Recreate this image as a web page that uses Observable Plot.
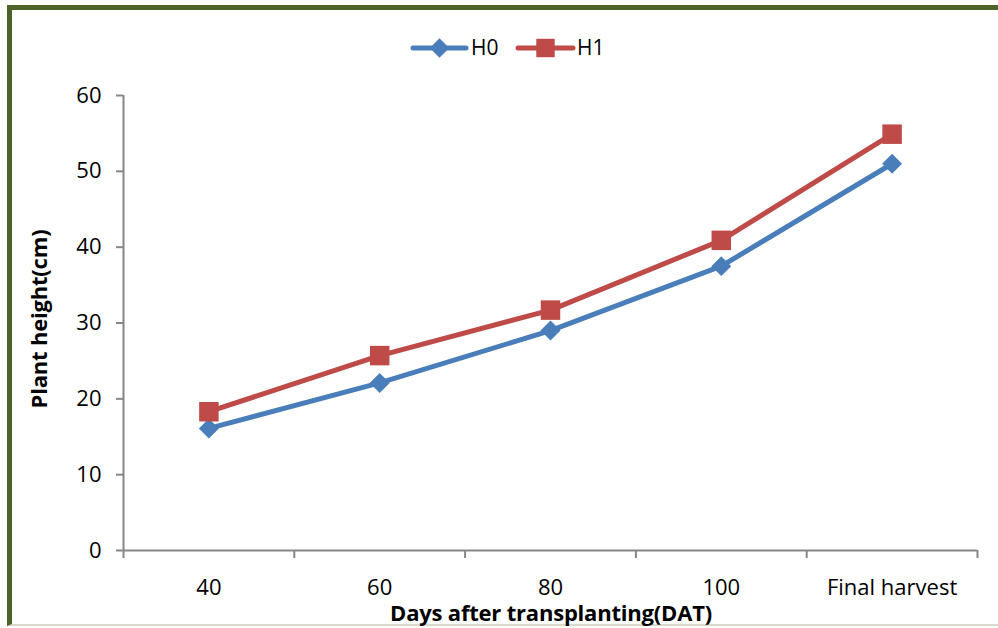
<!DOCTYPE html>
<html>
<head>
<meta charset="utf-8">
<script src="https://cdn.jsdelivr.net/npm/d3@7"></script>
<script src="https://cdn.jsdelivr.net/npm/@observablehq/plot@0.6"></script>
<style>
  html, body { margin: 0; padding: 0; background: #fff; }
  #wrap { position: relative; width: 998px; height: 628px; overflow: hidden; font-family: "Open Sans", sans-serif; }
  #frame { position: absolute; left: 7px; top: 5px; width: 1200px; height: 621px; border-left: 5px solid #4F6228; border-top: 5px solid #4F6228; border-bottom: 2px solid #d9d9cc; box-sizing: border-box; }
  #chart { position: absolute; left: 0; top: 0; }
  .title { position: absolute; font-weight: bold; font-size: 22px; color: #000; white-space: nowrap; letter-spacing: -0.2px; }
  #ytitle { left: 38px; top: 319px; transform: translate(-50%, -50%) rotate(-90deg); }
  #xtitle { left: 551px; top: 612px; transform: translate(-50%, -50%); }
  #legend { position: absolute; left: 0; top: 0; }
</style>
</head>
<body>
<div id="wrap">
  <div id="frame"></div>
  <div id="chart"></div>
  <div id="ytitle" class="title">Plant height(cm)</div>
  <div id="xtitle" class="title">Days after transplanting(DAT)</div>
  <svg id="legend" width="998" height="80"></svg>
</div>
<script>
const categories = ["40", "60", "80", "100", "Final harvest"];
const seriesNames = ["H0", "H1"];
const h0 = [16.1, 22.1, 29.0, 37.5, 51.0];
const h1 = [18.3, 25.7, 31.7, 40.9, 54.9];
const yTicks = [0, 10, 20, 30, 40, 50, 60];

const colors = { H0: "#4A7EBB", H1: "#BE4B48" };

const rowsH0 = categories.map((c, i) => ({ i, cat: c, value: h0[i], series: "H0" }));
const rowsH1 = categories.map((c, i) => ({ i, cat: c, value: h1[i], series: "H1" }));

const axisColor = "#868686";
const boundaries = d3.range(categories.length + 1).map(k => k - 0.5);

const chart = Plot.plot({
  width: 998,
  height: 628,
  marginLeft: 123,
  marginRight: 21,
  marginTop: 95,
  marginBottom: 78,
  style: { fontFamily: "Open Sans, sans-serif", fontSize: "22px", color: "#000", background: "transparent", overflow: "visible" },
  x: { type: "linear", domain: [-0.5, categories.length - 0.5] },
  y: { domain: [0, 60] },
  marks: [
    Plot.axisY({ ticks: yTicks, tickSize: 7, tickPadding: 15, stroke: axisColor, strokeWidth: 2, label: null, fill: "#000", fontSize: 22 }),
    Plot.axisX({ ticks: boundaries, tickSize: 8, tickFormat: () => "", stroke: axisColor, strokeWidth: 2, label: null }),
    Plot.axisX({ ticks: d3.range(categories.length), tickSize: 0, tickPadding: 29, tickFormat: i => categories[i], label: null, fill: "#000", fontSize: 22 }),
    Plot.ruleY([0], { stroke: axisColor, strokeWidth: 2 }),
    Plot.ruleX([-0.5], { stroke: axisColor, strokeWidth: 2 }),
    Plot.line(rowsH0, { x: "i", y: "value", stroke: colors.H0, strokeWidth: 5 }),
    Plot.line(rowsH1, { x: "i", y: "value", stroke: colors.H1, strokeWidth: 5 }),
    Plot.dot(rowsH0, { x: "i", y: "value", symbol: "diamond2", r: 9, fill: colors.H0, stroke: null }),
    Plot.dot(rowsH1, { x: "i", y: "value", symbol: "square", r: 11, fill: colors.H1, stroke: null })
  ]
});
document.getElementById("chart").appendChild(chart);

// Legend
const leg = d3.select("#legend");
const legendItems = [
  { name: seriesNames[0], x0: 413, x1: 466, symbol: d3.symbolDiamond2, size: 240, tx: 471 },
  { name: seriesNames[1], x0: 518, x1: 573, symbol: d3.symbolSquare, size: 340, tx: 577 }
];
const ly = 48;
legendItems.forEach(it => {
  const g = leg.append("g");
  g.append("line").attr("x1", it.x0).attr("x2", it.x1).attr("y1", ly).attr("y2", ly)
    .attr("stroke", colors[it.name]).attr("stroke-width", 5).attr("stroke-linecap", "round");
  g.append("path").attr("d", d3.symbol(it.symbol, it.size)())
    .attr("transform", `translate(${(it.x0 + it.x1) / 2},${ly})`).attr("fill", colors[it.name]);
  g.append("text").attr("x", it.tx).attr("y", ly).attr("dy", "0.35em")
    .attr("font-family", "Open Sans, sans-serif").attr("font-size", 21).attr("fill", "#000").text(it.name);
});
</script>
</body>
</html>
